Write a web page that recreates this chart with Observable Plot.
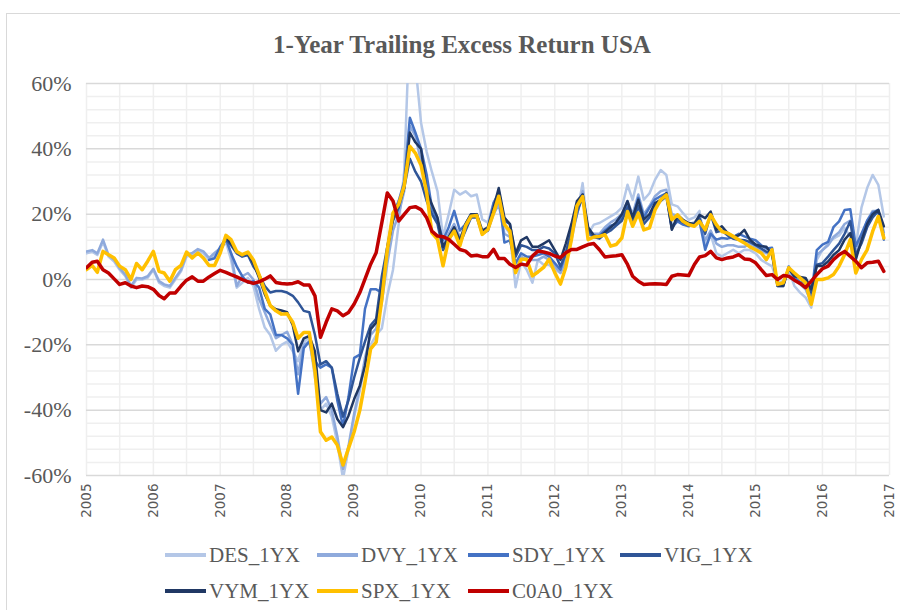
<!DOCTYPE html>
<html><head><meta charset="utf-8">
<script src="https://cdn.jsdelivr.net/npm/d3@7"></script>
<script src="https://cdn.jsdelivr.net/npm/@observablehq/plot@0.6"></script>
<style>
html,body{margin:0;padding:0;background:#fff;width:900px;height:610px;overflow:hidden;position:relative}
#frame{position:absolute;left:6px;top:13px;width:1000px;height:700px;border:1px solid #d9d9d9;box-sizing:border-box}
#chart{position:absolute;left:0;top:0}
#title{position:absolute;left:0;top:31px;width:924px;text-align:center;font:bold 25px "Liberation Serif";color:#595959;line-height:28px}
.item{position:absolute;height:24px;display:flex;align-items:center;font:21px "Liberation Serif";color:#595959;white-space:nowrap}
.sw{width:41px;margin-right:3px}
</style></head><body>
<div id="frame"></div>
<div id="chart"></div>
<div id="title">1-Year Trailing Excess Return USA</div>
<div id="legend"></div>
<script>
const seriesNames = ["DES_1YX","DVY_1YX","SDY_1YX","VIG_1YX","VYM_1YX","SPX_1YX","C0A0_1YX"];
const seriesColors = ["#b4c7e7","#8faadc","#4472c4","#2f5597","#203864","#ffc000","#c00000"];
const seriesWidths = [2.5,2.5,2.5,2.5,2.5,3.5,3.5];
const startYear = 2005, endYear = 2017;
const yTicks = [60,40,20,0,-20,-40,-60];
const yearTicks = [2005,2006,2007,2008,2009,2010,2011,2012,2013,2014,2015,2016,2017];

// monthly values, Jan 2005 .. Dec 2016 (percent)
const DES = [8.0,8.5,7.5,11.5,7.0,5.5,3.0,1.0,-2.5,0.0,
0.0,0.5,3.0,-1.0,-2.0,-2.5,0.0,2.5,7.0,7.5,
8.8,8.0,6.0,7.5,9.0,11.5,6.0,-2.5,-1.0,0.5,
-2.0,-9.0,-14.7,-17.0,-21.8,-20.0,-19.0,-22.0,-25.0,-19.0,
-18.0,-30.0,-40.0,-38.0,-42.0,-50.0,-61.0,-52.0,-42.0,-34.0,
-26.0,-20.0,-17.0,-15.0,-5.0,3.0,17.0,33.0,80.0,66.0,
48.0,39.0,33.0,27.0,13.0,20.0,27.5,26.0,27.0,25.5,
26.0,18.4,17.4,23.5,26.0,16.4,14.0,-2.4,5.5,3.0,
-1.0,6.0,4.5,4.5,3.0,2.0,5.0,12.0,20.0,29.5,
14.0,16.8,17.3,18.3,19.3,20.3,22.0,29.0,24.4,31.5,
24.4,26.4,30.5,33.5,32.0,23.0,22.4,20.3,18.3,19.0,
21.0,10.2,13.7,8.0,7.1,8.1,9.1,8.0,9.1,9.0,
8.0,6.0,5.0,4.0,-1.0,-0.5,3.0,-2.0,-4.0,-5.5,
-8.6,6.0,9.0,11.0,12.5,13.5,15.8,13.0,10.0,22.0,
28.0,32.0,29.0,19.3];
const DVY = [8.6,9.0,8.0,12.2,7.5,6.0,3.5,1.5,-2.0,0.5,
0.3,1.0,3.3,-0.5,-1.5,-2.0,0.5,3.0,7.6,8.1,
9.3,8.6,6.6,8.1,9.6,12.2,8.0,-2.0,1.0,2.0,
0.0,-6.0,-10.0,-14.0,-18.0,-17.0,-16.0,-20.0,-29.0,-20.0,
-19.0,-28.0,-38.0,-36.0,-40.0,-48.0,-58.0,-51.0,-41.0,-33.0,
-24.0,-17.0,-15.0,-7.0,5.0,15.0,20.0,27.0,47.0,44.0,
36.0,30.0,21.0,18.0,10.0,14.0,17.0,13.0,16.0,19.0,
20.0,14.0,15.0,20.0,23.0,14.0,13.0,3.0,7.0,6.0,
6.0,6.0,7.0,6.0,4.0,2.0,6.0,13.0,20.0,27.0,
14.5,14.0,14.0,16.0,17.5,18.5,20.0,24.0,20.0,26.0,
20.0,22.5,25.5,27.0,27.5,20.0,19.5,18.0,17.0,17.5,
19.0,12.0,15.0,11.0,10.0,10.5,10.5,10.0,10.0,11.0,
10.0,9.0,8.0,8.0,-1.5,-1.0,3.5,0.0,-1.5,-3.0,
-7.0,7.5,9.0,10.5,13.0,14.5,17.0,18.0,8.0,13.0,
18.0,21.0,21.0,14.5];
const SDY = [null,null,null,null,null,null,null,null,null,null,
null,null,null,null,null,null,null,null,null,null,
null,null,6.0,6.5,10.0,12.5,8.0,4.0,1.0,-1.0,
-0.5,-2.5,-9.0,-10.7,-17.0,-17.0,-18.0,-20.0,-35.0,-21.0,
-19.0,-25.0,-27.0,-26.0,-27.0,-37.0,-45.0,-36.0,-24.0,-23.0,
-9.0,-3.0,-3.0,-4.0,10.0,20.0,24.0,30.0,49.5,45.0,
40.0,32.0,22.0,18.0,12.0,16.0,21.0,15.0,17.0,20.0,
20.0,14.0,16.0,23.5,26.5,11.3,12.0,5.0,8.0,7.0,
7.0,7.5,8.0,7.0,5.0,3.0,8.0,14.0,20.0,26.0,
14.0,13.0,13.5,15.0,16.5,17.0,19.0,23.0,18.5,25.0,
19.0,22.0,24.5,25.5,26.4,16.0,17.8,16.8,16.3,17.0,
17.8,9.1,14.0,12.2,12.7,12.5,13.0,14.0,13.2,12.5,
12.0,10.5,9.5,9.7,-2.0,-2.0,4.0,0.5,-0.8,-1.0,
-5.0,9.0,10.7,11.5,16.0,17.8,21.3,21.5,10.2,14.0,
18.0,20.5,21.3,12.2];
const VIG = [null,null,null,null,null,null,null,null,null,null,
null,null,null,null,null,null,null,null,null,null,
null,null,null,null,9.0,12.5,10.5,8.0,7.0,7.5,
4.0,1.5,-2.0,-4.0,-3.5,-3.5,-4.0,-5.0,-7.0,-9.6,
-10.0,-17.0,-26.0,-25.0,-27.0,-35.0,-42.0,-37.0,-30.0,-24.0,
-19.0,-14.0,-12.0,1.0,10.0,18.0,22.0,28.0,37.0,33.0,
30.0,24.0,20.0,17.0,9.0,12.0,15.0,11.0,15.0,19.0,
19.0,14.0,15.0,21.0,27.0,18.0,17.0,7.0,10.5,10.0,
9.0,9.0,10.0,9.5,8.0,4.0,8.0,15.0,21.0,25.0,
15.0,13.0,12.5,14.0,15.0,16.5,18.0,22.0,17.5,22.5,
17.0,19.0,22.5,24.0,25.5,15.5,18.5,17.5,16.5,16.5,
18.8,14.0,20.0,14.5,15.0,13.5,12.5,12.2,12.0,11.5,
10.5,9.5,8.5,8.0,-1.5,-1.5,3.5,1.0,0.5,0.0,
-4.0,4.5,5.0,7.0,9.0,11.0,14.0,17.8,7.5,11.0,
16.0,19.0,21.0,13.0];
const VYM = [null,null,null,null,null,null,null,null,null,null,
null,null,null,null,null,null,null,null,null,null,
null,null,null,null,8.5,13.0,11.0,8.5,7.5,8.0,
5.0,0.5,-4.5,-8.0,-9.1,-9.5,-10.0,-14.0,-22.0,-18.0,
-17.3,-22.0,-40.0,-40.7,-38.0,-42.7,-45.2,-41.7,-36.6,-32.5,
-26.4,-15.2,-13.2,-3.0,9.0,19.0,23.0,28.0,45.0,42.0,
40.0,27.0,23.0,19.0,10.0,13.0,16.0,12.0,17.0,20.0,
20.0,15.0,16.0,22.0,28.0,19.0,17.0,8.0,12.0,13.0,
10.0,10.0,11.0,12.0,9.0,6.0,11.0,17.0,24.0,26.0,
16.0,13.5,13.0,14.5,16.0,17.5,20.0,24.0,19.0,24.4,
18.3,20.0,23.4,24.4,26.4,15.2,19.8,18.3,17.3,17.0,
19.8,18.8,20.8,15.2,16.3,14.2,13.2,13.5,15.2,12.2,
10.7,10.2,10.0,7.6,-2.0,-2.0,3.5,1.0,0.8,0.5,
-3.0,4.1,4.1,5.5,7.5,9.0,12.2,14.2,6.1,12.0,
17.0,20.0,21.3,16.3];
const SPX = [3.0,4.3,2.2,8.6,7.6,6.6,4.1,3.0,0.0,4.9,
3.0,5.6,8.6,2.5,2.0,-0.5,3.0,4.3,8.4,6.6,
8.1,6.6,4.3,4.3,8.1,13.5,12.2,8.6,7.6,8.4,
6.0,1.5,-3.5,-8.0,-9.6,-10.6,-10.5,-13.1,-18.0,-16.2,
-16.2,-28.0,-46.6,-49.2,-48.2,-50.7,-56.8,-51.7,-46.6,-40.0,
-31.4,-21.2,-19.2,-6.0,9.2,20.4,23.0,28.6,40.8,38.7,
35.0,26.5,14.3,12.3,4.2,12.3,14.8,10.3,16.4,19.4,
19.6,13.8,15.3,20.4,25.5,16.9,14.8,2.1,6.2,6.2,
1.1,2.3,3.7,6.2,2.1,-1.4,3.7,12.3,22.5,25.4,
12.2,13.0,13.2,13.7,10.2,10.7,12.7,20.8,16.3,20.3,
15.2,15.8,21.3,24.4,25.9,18.3,19.8,17.8,16.8,16.3,
17.8,15.2,19.8,16.8,14.7,14.2,13.2,12.2,11.2,10.0,
9.1,8.1,6.1,9.1,-1.5,-1.0,3.6,2.0,0.5,-1.0,
-7.6,0.0,0.0,0.5,1.5,4.1,7.6,12.2,2.0,6.1,
9.1,14.7,19.3,12.7];
const C0A0 = [3.6,5.3,5.6,3.0,2.0,0.2,-1.5,-1.0,-2.0,-2.5,
-2.0,-2.2,-3.0,-4.9,-5.9,-4.1,-4.1,-2.0,-0.2,0.8,
-0.5,-0.5,0.8,1.8,2.8,2.2,1.5,0.8,0.0,-0.7,
-1.2,-0.7,0.1,1.1,-0.9,-1.2,-1.4,-1.2,-0.7,-1.7,
-1.7,-5.0,-17.7,-13.1,-9.0,-9.6,-11.1,-10.1,-7.5,-4.0,
0.1,4.7,8.2,17.4,26.5,24.0,17.9,19.9,22.0,22.3,
21.4,18.9,14.8,13.3,13.1,12.3,10.8,9.2,8.7,7.2,
7.4,7.0,7.0,9.2,6.4,6.4,4.7,3.7,4.7,4.4,
7.2,8.7,8.4,8.0,7.2,6.7,8.2,9.2,9.2,10.0,
10.7,11.0,9.1,6.9,7.1,7.3,7.6,4.6,1.0,-0.5,
-1.5,-1.4,-1.3,-1.4,-1.5,1.0,1.5,1.4,1.2,4.6,
6.9,7.3,8.6,6.6,6.1,6.6,6.9,7.6,6.3,6.1,
5.1,3.0,1.2,1.5,0.0,1.2,1.0,-0.2,-1.2,-2.5,
-0.5,1.5,3.3,4.1,6.1,7.6,8.6,7.1,5.6,3.6,
5.1,5.3,5.6,2.5];

const seriesValues = [DES, DVY, SDY, VIG, VYM, SPX, C0A0];
const monthDate = i => new Date(Date.UTC(startYear, i, 1));
const x0 = new Date(Date.UTC(startYear, 0, 1)), x1 = new Date(Date.UTC(endYear, 0, 1));

const halfYears = d3.utcMonth.every(6).range(x0, d3.utcDay.offset(x1, 1));
const minorY = d3.range(-56, 60, 4).filter(v => v % 20 !== 0);
const majorY = [-60, -40, -20, 0, 20, 40, 60];

const lineMarks = seriesValues.map((vals, k) =>
  Plot.line(vals.map((v, i) => ({date: monthDate(i), value: v})), {
    x: "date", y: "value", stroke: seriesColors[k], strokeWidth: seriesWidths[k],
    strokeLinejoin: "round", strokeLinecap: "round", clip: true,
    defined: d => d.value != null
  })
);

const chart = Plot.plot({
  width: 900, height: 540,
  marginLeft: 86, marginRight: 11, marginTop: 83, marginBottom: 65,
  x: {type: "utc", domain: [x0, x1], axis: null},
  y: {domain: [-60, 60], axis: null},
  style: {background: "transparent", overflow: "visible"},
  marks: [
    Plot.ruleY(minorY, {stroke: "#efefef", strokeWidth: 1.5}),
    Plot.ruleX(halfYears, {stroke: "#efefef", strokeWidth: 1.5}),
    Plot.ruleY(majorY, {stroke: "#d9d9d9", strokeWidth: 1.5}),
    ...lineMarks,
    Plot.text(yTicks, {x: () => x0, y: d => d, text: d => d + "%", textAnchor: "end", dx: -15,
      fontFamily: "Liberation Serif", fontSize: 22, fill: "#595959"}),
    Plot.text(yearTicks, {x: d => new Date(Date.UTC(d, 0, 1)), y: () => -60, text: d => String(d),
      rotate: -90, textAnchor: "end", dy: 8, fontFamily: "DejaVu Sans", fontSize: 13.5, fill: "#595959"})
  ]
});
document.getElementById("chart").appendChild(chart);

const legendPos = [[165,543],[317,543],[468,543],[620,543],[165,579],[317,579],[468,579]];
const legend = document.getElementById("legend");
seriesNames.forEach((name, k) => {
  const it = document.createElement("div");
  it.className = "item";
  it.style.left = legendPos[k][0] + "px";
  it.style.top = legendPos[k][1] + "px";
  const sw = document.createElement("div");
  sw.className = "sw";
  sw.style.height = (k >= 5 ? 4 : 3.5) + "px";
  sw.style.background = seriesColors[k];
  const tx = document.createElement("span");
  tx.textContent = name;
  it.appendChild(sw); it.appendChild(tx);
  legend.appendChild(it);
});
</script>
</body></html>
